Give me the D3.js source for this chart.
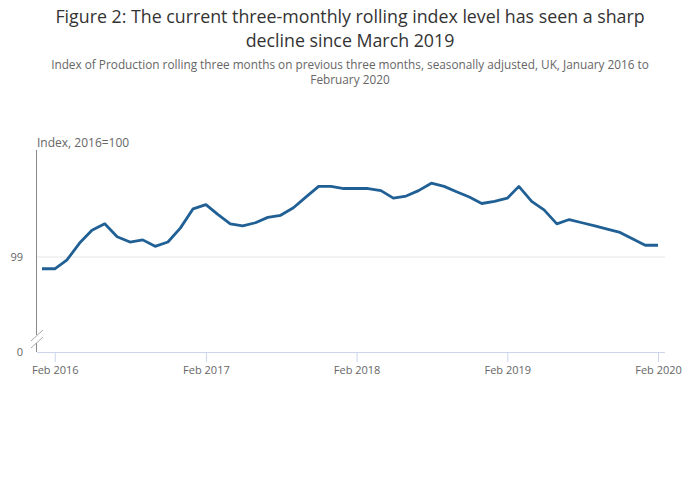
<!DOCTYPE html>
<html>
<head>
<meta charset="utf-8">
<script src="https://cdn.jsdelivr.net/npm/d3@7"></script>
<style>
  body { margin: 0; background: #fff; font-family: "Open Sans", sans-serif; }
  svg { display: block; }
</style>
</head>
<body>
<svg id="chart" width="700" height="502"></svg>
<script>
// monthly, Jan 2016 .. Feb 2020
const startMonth = new Date(2016, 0, 1);
const values = [
  98.89, 98.89, 98.97, 99.13, 99.25, 99.31, 99.19, 99.14, 99.16, 99.10, 99.14, 99.27,
  99.45, 99.49, 99.40, 99.31, 99.29, 99.32, 99.37, 99.39, 99.46, 99.56, 99.66, 99.66,
  99.64, 99.64, 99.64, 99.62, 99.55, 99.57, 99.62, 99.69, 99.66, 99.61, 99.56, 99.50,
  99.52, 99.55, 99.66, 99.52, 99.44, 99.31, 99.35, 99.32, 99.29, 99.26, 99.23, 99.17,
  99.11, 99.11
];
const yTicks = [0, 99];
const xTicks = [new Date(2016, 1, 1), new Date(2017, 1, 1), new Date(2018, 1, 1), new Date(2019, 1, 1), new Date(2020, 1, 1)];
const titleLines = [
  "Figure 2: The current three-monthly rolling index level has seen a sharp",
  "decline since March 2019"
];
const subtitleLines = [
  "Index of Production rolling three months on previous three months, seasonally adjusted, UK, January 2016 to",
  "February 2020"
];

const data = values.map((v, i) => ({ date: d3.timeMonth.offset(startMonth, i), value: v }));

const svg = d3.select("#chart");
const plotLeft = 37, plotRight = 665, plotTop = 150, plotBottom = 352;

const x = d3.scaleTime()
  .domain([startMonth, data[data.length - 1].date])
  .range([42, 658]);

// broken axis: 0 squeezed at the bottom, detail range above
const y = d3.scaleLinear()
  .domain([0, 98.6, 100])
  .range([plotBottom, 299.8, plotTop]);

// titles
svg.selectAll("text.title").data(titleLines).join("text")
  .attr("class", "title")
  .attr("x", 350).attr("y", (d, i) => 22.5 + i * 24)
  .attr("text-anchor", "middle")
  .attr("fill", "#333")
  .style("font-size", "17.8px")
  .text(d => d);

svg.selectAll("text.subtitle").data(subtitleLines).join("text")
  .attr("class", "subtitle")
  .attr("x", 350).attr("y", (d, i) => 69 + i * 15)
  .attr("text-anchor", "middle")
  .attr("fill", "#666")
  .style("font-size", "11.8px")
  .text(d => d);

svg.append("text")
  .attr("x", plotLeft).attr("y", 147)
  .attr("fill", "#666")
  .style("font-size", "12px")
  .text("Index, 2016=100");

// gridline at 99
svg.append("line")
  .attr("x1", plotLeft).attr("x2", plotRight)
  .attr("y1", y(99)).attr("y2", y(99))
  .attr("stroke", "#e6e6e6");

// y axis
const yAxis = svg.append("g")
  .attr("transform", `translate(${plotLeft},0)`)
  .call(d3.axisLeft(y).tickValues(yTicks).tickSize(0).tickPadding(14).tickFormat(d3.format("d")));
yAxis.select(".domain").remove();
yAxis.selectAll("text").attr("fill", "#666").style("font-size", "11px").style("font-family", "Open Sans");

svg.append("line")
  .attr("x1", plotLeft - 0.5).attr("x2", plotLeft - 0.5)
  .attr("y1", plotTop).attr("y2", plotBottom)
  .attr("stroke", "#888");

// break marks
svg.append("rect").attr("x", plotLeft - 3).attr("y", 335).attr("width", 6).attr("height", 8).attr("fill", "#fff");
[0, 7].forEach(o => {
  svg.append("line")
    .attr("x1", 31).attr("y1", 341 + o)
    .attr("x2", 43).attr("y2", 330 + o)
    .attr("stroke", "#aaa");
});

// x axis
const xAxis = svg.append("g")
  .attr("transform", `translate(0,${plotBottom})`)
  .call(d3.axisBottom(x).tickValues(xTicks).tickSize(10).tickPadding(4).tickFormat(d3.timeFormat("%b %Y")));
xAxis.select(".domain").attr("d", `M${plotLeft},0.5H${plotRight}`).attr("stroke", "#ccd6eb");
xAxis.selectAll(".tick line").attr("stroke", "#ccd6eb");
xAxis.selectAll("text").attr("fill", "#666").style("font-size", "11px").style("font-family", "Open Sans");

// line
svg.append("path")
  .datum(data)
  .attr("fill", "none")
  .attr("stroke", "#206095")
  .attr("stroke-width", 2.8)
  .attr("stroke-linejoin", "round")
  .attr("d", d3.line().x(d => x(d.date)).y(d => y(d.value)));
</script>
</body>
</html>
